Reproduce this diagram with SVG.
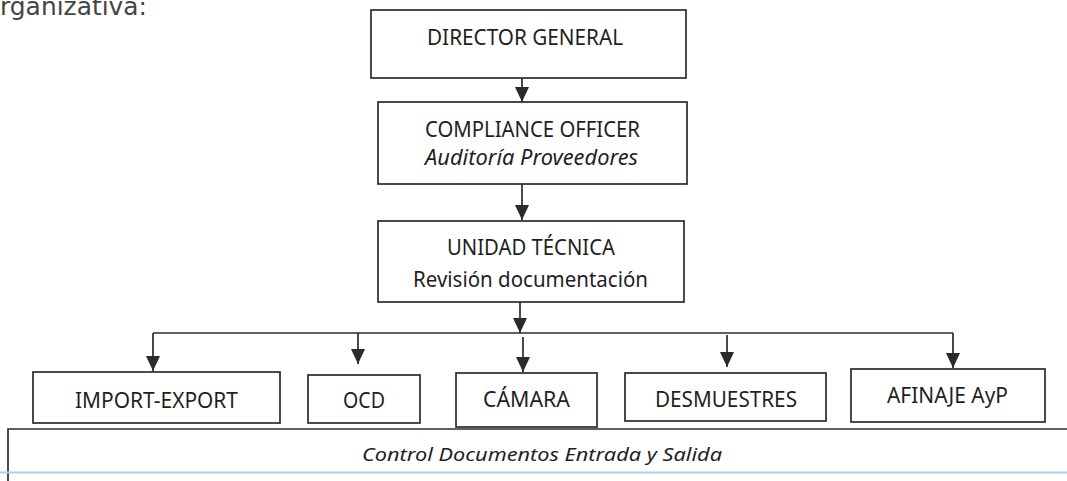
<svg xmlns="http://www.w3.org/2000/svg" width="1067" height="481" viewBox="0 0 1067 481">
<style>
.box{fill:#fff;stroke:#2b2b2b;stroke-width:1.7}
.t{font-family:"Noto Sans","Liberation Sans",sans-serif;font-size:21px;fill:#1f1f1f}
.i{font-style:italic}
.ln{stroke:#2b2b2b;stroke-width:1.7;fill:none}
</style>
<defs>
<marker id="ah" viewBox="0 0 15 14" refX="15" refY="7" markerWidth="15" markerHeight="14" markerUnits="userSpaceOnUse" orient="auto">
<path d="M0,0 L15,7 L0,14 Z" fill="#2b2b2b"/>
</marker>
</defs>
<rect width="1067" height="481" fill="#fff"/>
<text x="0" y="15" font-family="DejaVu Sans, sans-serif" font-size="25" fill="#444" textLength="147" lengthAdjust="spacingAndGlyphs">rganizativa:</text>

<g id="connectors">
<path class="ln" d="M522,78 V102" marker-end="url(#ah)"/>
<path class="ln" d="M522,184 V220" marker-end="url(#ah)"/>
<path class="ln" d="M520,302 V333" marker-end="url(#ah)"/>
<path class="ln" d="M153,333 H953"/>
<path class="ln" d="M153,333 V371" marker-end="url(#ah)"/>
<path class="ln" d="M358,333 V364" marker-end="url(#ah)"/>
<path class="ln" d="M523,337 V372" marker-end="url(#ah)"/>
<path class="ln" d="M727,335 V367" marker-end="url(#ah)"/>
<path class="ln" d="M953,333 V368" marker-end="url(#ah)"/>
</g>

<g id="director">
<rect class="box" x="371" y="10" width="315" height="68"/>
<text class="t" x="427" y="45" textLength="196" lengthAdjust="spacingAndGlyphs">DIRECTOR GENERAL</text>
</g>
<g id="compliance">
<rect class="box" x="378" y="102" width="309" height="82"/>
<text class="t" x="425" y="137" textLength="215" lengthAdjust="spacingAndGlyphs">COMPLIANCE OFFICER</text>
<text class="t i" x="425" y="165" textLength="213" lengthAdjust="spacingAndGlyphs">Auditoría Proveedores</text>
</g>
<g id="unidad">
<rect class="box" x="378" y="221" width="306" height="81"/>
<text class="t" x="447" y="255" textLength="168" lengthAdjust="spacingAndGlyphs">UNIDAD TÉCNICA</text>
<text class="t" x="413" y="287" textLength="235" lengthAdjust="spacingAndGlyphs">Revisión documentación</text>
</g>
<g id="import">
<rect class="box" x="33" y="372" width="247" height="51"/>
<text class="t" x="75" y="408" textLength="163" lengthAdjust="spacingAndGlyphs">IMPORT-EXPORT</text>
</g>
<g id="ocd">
<rect class="box" x="308" y="375" width="112" height="48"/>
<text class="t" x="343" y="408" textLength="42" lengthAdjust="spacingAndGlyphs">OCD</text>
</g>
<g id="camara">
<rect class="box" x="456" y="373" width="141" height="54"/>
<text class="t" x="483" y="407" textLength="87" lengthAdjust="spacingAndGlyphs">CÁMARA</text>
</g>
<g id="desmuestres">
<rect class="box" x="625" y="373" width="201" height="48"/>
<text class="t" x="655" y="407" textLength="142" lengthAdjust="spacingAndGlyphs">DESMUESTRES</text>
</g>
<g id="afinaje">
<rect class="box" x="851" y="369" width="194" height="53"/>
<text class="t" x="887" y="403" textLength="121" lengthAdjust="spacingAndGlyphs">AFINAJE AyP</text>
</g>
<g id="control">
<path class="ln" d="M8,481 V429 H1067"/>
<text class="t i" x="362" y="461" style="font-size:18px" textLength="360" lengthAdjust="spacingAndGlyphs">Control Documentos Entrada y Salida</text>
<line x1="0" y1="472.5" x2="1067" y2="472.5" stroke="#a9d3df" stroke-width="2"/>
</g>
</svg>
